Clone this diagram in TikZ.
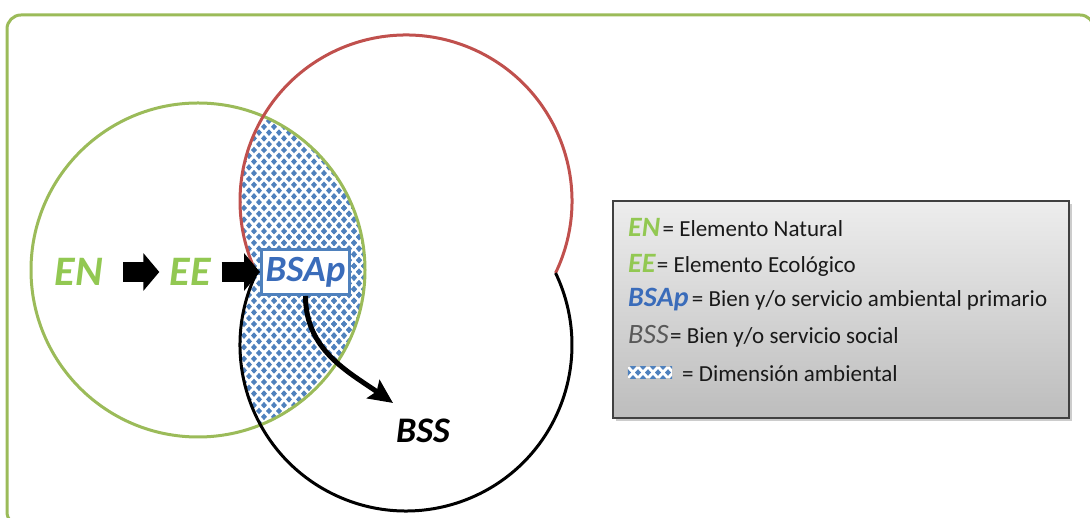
\documentclass[tikz,border=0pt]{standalone}
\usepackage{fontspec}
\setmainfont{Carlito}
\usetikzlibrary{arrows.meta,shadows,positioning}

\definecolor{framegreen}{RGB}{155,187,89}
\definecolor{labelgreen}{RGB}{146,200,82}
\definecolor{ringred}{RGB}{192,80,77}
\definecolor{dotblue}{RGB}{79,129,189}
\definecolor{labelblue}{RGB}{58,108,186}

\newcommand{\dimdots}[4]{%
  \foreach \i in {0,...,#3}{\foreach \j in {0,...,#4}{%
    \fill[dotblue] ({#1+10*\i},{#2+11.6*\j}) +(0,3.3) -- +(3,0) -- +(0,-3.3) -- +(-3,0) -- cycle
      ({#1+10*\i+5},{#2+11.6*\j+5.8}) +(0,3.3) -- +(3,0) -- +(0,-3.3) -- +(-3,0) -- cycle;
  }}}

\tikzset{
  ring/.style={line width=3pt},
  bigabbr/.style={inner sep=0pt, font=\fontsize{42}{42}\selectfont\bfseries\itshape},
  keyabbr/.style={inner sep=0pt, anchor=base west, font=\fontsize{28}{28}\selectfont\bfseries\itshape},
  keytext/.style={inner sep=0pt, font=\fontsize{23}{23}\selectfont, text=black!90},
  blockarrow/.style={line width=20pt, -{Triangle[length=16pt,width=37pt]}},
  bendarrow/.style={line width=5pt, -{Stealth[length=24pt,width=22pt,inset=4pt]}}
}

\begin{document}
\begin{tikzpicture}[x=1pt,y=1pt]
  \clip (0,0) rectangle (1090,518);
  \draw[framegreen, line width=3pt, rounded corners=14pt] (7,-8) rectangle (1094,503);

  \coordinate (cEN) at (198,248);
  \coordinate (cUp) at (406,317);
  \coordinate (cDown) at (406,173);

  \begin{scope}
    \clip (cEN) circle[radius=167];
    \clip (cUp) circle[radius=166];
    \dimdots{234}{78}{14}{29}
  \end{scope}
  \begin{scope}
    \clip (cEN) circle[radius=167];
    \clip (cDown) circle[radius=166];
    \dimdots{234}{78}{14}{29}
  \end{scope}
  \draw[ring, framegreen] (cEN) circle[radius=167];
  \draw[ring, ringred] (cUp) ++(-25.7:166) arc[start angle=-25.7, end angle=205.7, radius=166];
  \draw[ring, black] (cDown) ++(154.3:166) arc[start angle=154.3, end angle=385.7, radius=166];

  \node[bigabbr, text=labelgreen] (EN) at (79,246) {EN};
  \node[bigabbr, text=labelgreen] (EE) at (190,246) {EE};
  \node[draw=dotblue, line width=3pt, fill=white, minimum width=88pt, minimum height=45pt,
        inner sep=0pt, text=labelblue, font=\fontsize{37}{37}\selectfont\bfseries\itshape] (BSAp) at (305.5,246) {BSAp};
  \node[bigabbr, font=\fontsize{36}{36}\selectfont\bfseries\itshape] (BSS) at (423,87) {BSS};
  \coordinate (tipBSS) at (393,115);

  \draw[blockarrow, shorten <=20pt, shorten >=10pt] (EN.east) -- (EE.west);
  \draw[blockarrow, shorten <=11pt] (EE.east) -- (BSAp.west);
  \draw[bendarrow] (BSAp.south) to[out=-90, in=145] (tipBSS);

  \node[draw=black!75, line width=1.2pt, top color=black!7, bottom color=black!26,
        minimum width=456pt, minimum height=217pt,
        drop shadow={opacity=0.4, shadow xshift=3pt, shadow yshift=-3pt}] (key) at (841,208.5) {};

  \node[keyabbr, text=labelgreen] (kEN) at (628,281) {EN};
  \node[keytext, base right=2pt of kEN] (tEN) {= Elemento Natural};
  \node[keyabbr, text=labelgreen] (kEE) at (628,245) {EE};
  \node[keytext, base right=1pt of kEE] (tEE) {= Elemento Ecológico};
  \node[keyabbr, text=labelblue] (kBSAp) at (628,211) {BSAp};
  \node[keytext, base right=3pt of kBSAp] (tBSAp) {= Bien y/o servicio ambiental primario};
  \node[keyabbr, text=black!65, font=\fontsize{28}{28}\selectfont\itshape] (kBSS) at (628,174) {BSS};
  \node[keytext, base right=1pt of kBSS] (tBSS) {= Bien y/o servicio social};
  \node[fill=white, minimum width=44pt, minimum height=11pt, inner sep=0pt] (kDim) at (650,145.5) {};
  \begin{scope}
    \clip (kDim.south west) rectangle (kDim.north east);
    \dimdots{623}{139.7}{5}{1}
  \end{scope}
  \node[keytext, anchor=base west] (tDim) at (682,136) {= Dimensión ambiental};
\end{tikzpicture}
\end{document}
